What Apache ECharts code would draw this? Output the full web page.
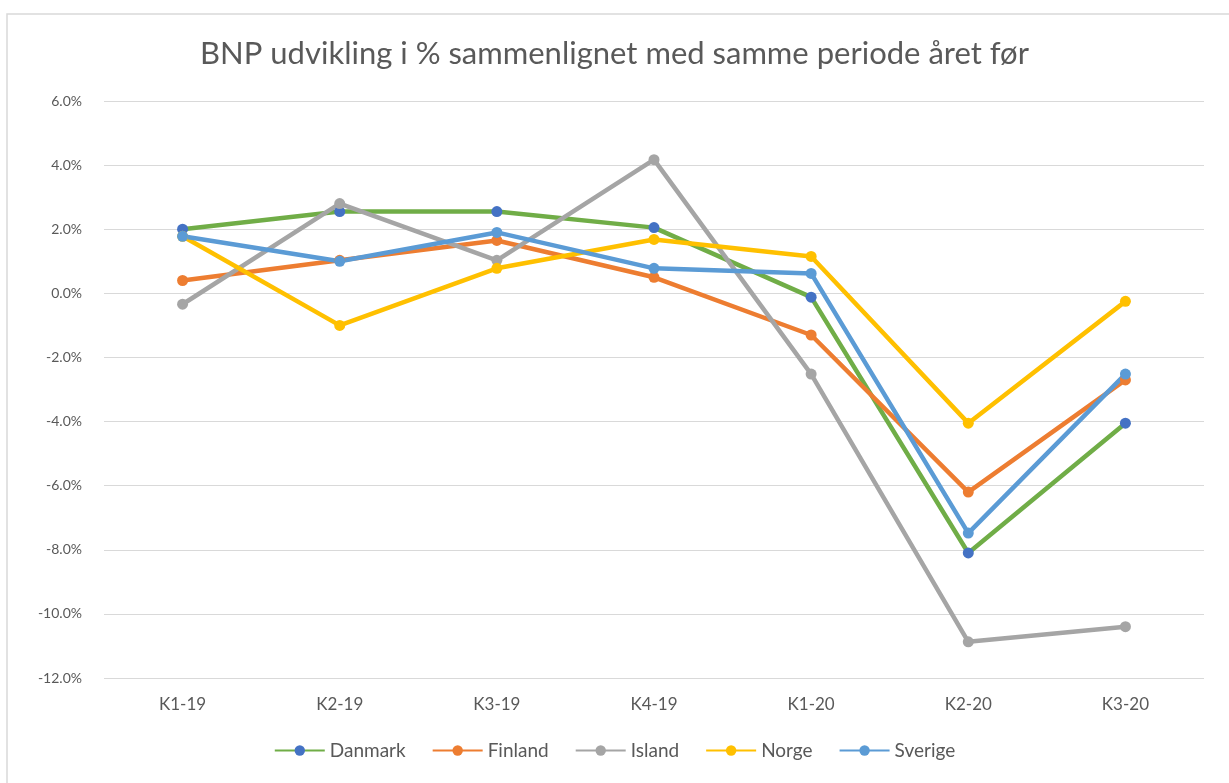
<!DOCTYPE html>
<html>
<head>
<meta charset="utf-8">
<script src="https://cdn.jsdelivr.net/npm/echarts@6/dist/echarts.min.js"></script>
<style>
html, body { margin: 0; padding: 0; background: #fff; }
#main { width: 1229px; height: 783px; }
</style>
</head>
<body>
<div id="main"></div>
<script>
var categories = ['K1-19', 'K2-19', 'K3-19', 'K4-19', 'K1-20', 'K2-20', 'K3-20'];
var danmark = [2.0, 2.55, 2.55, 2.05, -0.12, -8.1, -4.05];
var finland = [0.4, 1.03, 1.65, 0.5, -1.3, -6.2, -2.7];
var island = [-0.34, 2.8, 1.03, 4.17, -2.52, -10.87, -10.4];
var norge = [1.78, -1.0, 0.78, 1.68, 1.15, -4.05, -0.25];
var sverige = [1.78, 1.0, 1.9, 0.78, 0.62, -7.48, -2.52];

var textColor = '#595959';
var fontName = 'Lato, "Liberation Sans", sans-serif';

function makeSeries(name, data, lineColor, markerColor) {
	return {
		name: name,
		type: 'line',
		data: data,
		symbol: 'circle',
		symbolSize: 11,
		lineStyle: { color: lineColor, width: 4.5 },
		itemStyle: { color: markerColor },
		emphasis: { disabled: true }
	};
}

var chart = echarts.init(document.getElementById('main'));
chart.setOption({
	animation: false,
	graphic: [{
		type: 'rect',
		shape: { x: 7, y: 14, width: 1240, height: 800 },
		style: { fill: 'none', stroke: '#d9d9d9', lineWidth: 1.5 }
	}],
	title: {
		text: 'BNP udvikling i % sammenlignet med samme periode året før',
		left: 'center',
		top: 33,
		textStyle: { color: textColor, fontSize: 31, fontWeight: 'normal', fontFamily: fontName }
	},
	grid: { left: 104, right: 25, top: 101, bottom: 105 },
	legend: {
		bottom: 18,
		left: 'center',
		itemWidth: 50,
		itemHeight: 13,
		itemGap: 26,
		textStyle: { color: textColor, fontSize: 19, fontFamily: fontName },
		data: ['Danmark', 'Finland', 'Island', 'Norge', 'Sverige']
	},
	xAxis: {
		type: 'category',
		data: categories,
		boundaryGap: true,
		axisLine: { show: false },
		axisTick: { show: false },
		axisLabel: { color: textColor, fontSize: 17, margin: 18, fontFamily: fontName }
	},
	yAxis: {
		type: 'value',
		min: -12,
		max: 6,
		interval: 2,
		axisLine: { show: false },
		axisTick: { show: false },
		axisLabel: {
			color: textColor, fontSize: 14, margin: 22, fontFamily: fontName,
			formatter: function (v) { return v.toFixed(1) + '%'; }
		},
		splitLine: { lineStyle: { color: '#d9d9d9', width: 1 } }
	},
	series: [
		makeSeries('Danmark', danmark, '#70AD47', '#4472C4'),
		makeSeries('Finland', finland, '#ED7D31', '#ED7D31'),
		makeSeries('Island', island, '#A5A5A5', '#A5A5A5'),
		makeSeries('Norge', norge, '#FFC000', '#FFC000'),
		makeSeries('Sverige', sverige, '#5B9BD5', '#5B9BD5')
	]
});
</script>
</body>
</html>
